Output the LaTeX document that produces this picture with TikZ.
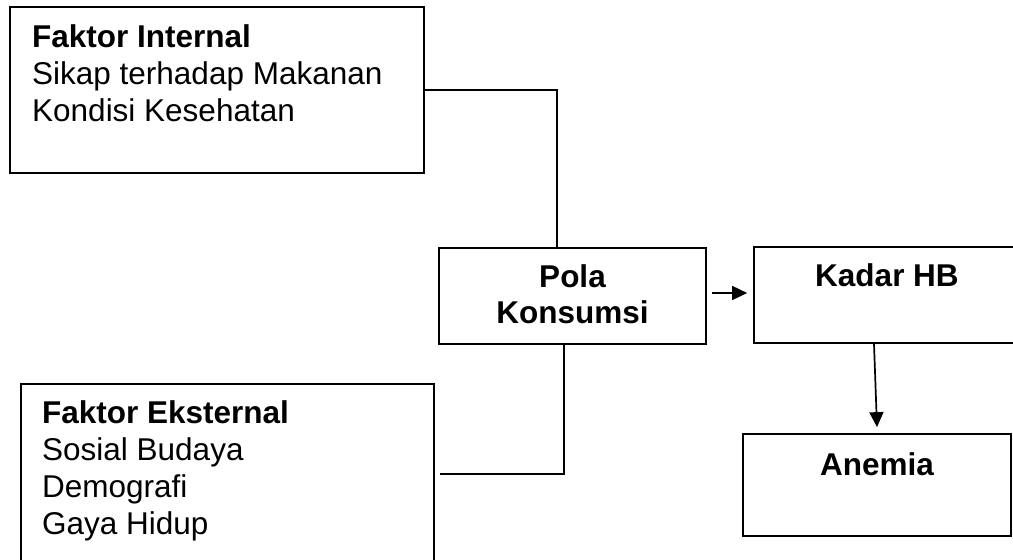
\documentclass[tikz,border=0pt]{standalone}
\usepackage{fontspec}
\setmainfont{Liberation Sans}
\usetikzlibrary{arrows.meta}
\begin{document}
\begin{tikzpicture}[x=1pt,y=1pt,
  box/.style={draw,line width=1.7pt,rectangle,inner sep=0pt,minimum width=#1},
  txt/.style={anchor=base west,inner sep=0pt,font=\fontsize{31.5}{37}\selectfont},
  ctxt/.style={anchor=base,inner sep=0pt,font=\fontsize{31.5}{37}\selectfont\bfseries},
  conn/.style={line width=1.7pt},
  arr/.style={line width=1.7pt,-{Triangle[length=15pt,width=14pt]}}]
\useasboundingbox (0,0) rectangle (1013,560);
\fill[white] (0,0) rectangle (1013,560);
% boxes
\node[box=414pt,minimum height=166pt] (int) at (217,470) {};
\node[box=413pt,minimum height=191pt] (ext) at (227.5,80.5) {};
\node[box=267pt,minimum height=96pt] (pola) at (572.5,264) {};
\node[box=266pt,minimum height=96pt] (kadar) at (887,265) {};
\node[box=268pt,minimum height=102pt] (anemia) at (877,75) {};
% texts
\node[txt,font=\fontsize{31.5}{37}\selectfont\bfseries] (i1) at (32,512) {Faktor Internal};
\node[txt] (i2) at (32,475) {Sikap terhadap Makanan};
\node[txt] (i3) at (32,438) {Kondisi Kesehatan};
\node[txt,font=\fontsize{31.5}{37}\selectfont\bfseries] (e1t) at (42,136) {Faktor Eksternal};
\node[txt] (e2t) at (42,99) {Sosial Budaya};
\node[txt] (e3t) at (42,62) {Demografi};
\node[txt] (e4t) at (42,25) {Gaya Hidup};
\node[ctxt] (p1) at (572.5,272) {Pola};
\node[ctxt] (p2) at (572.5,236) {Konsumsi};
\node[ctxt] (k1) at (887,273) {Kadar HB};
\node[ctxt] (a1) at (877,84) {Anemia};
% connectors
\draw[conn] (int.east) -| ([xshift=-15.5pt]pola.north);
\coordinate (extout) at (440,86);
\draw[conn] (extout) -| ([xshift=-8.5pt]pola.south);
\draw[arr] ([shift={(5pt,3pt)}]pola.east) -- ([shift={(-6pt,2pt)}]kadar.west);
\draw[arr] ([xshift=-13pt]kadar.south) -- ([yshift=6pt]anemia.north);
\end{tikzpicture}
\end{document}
